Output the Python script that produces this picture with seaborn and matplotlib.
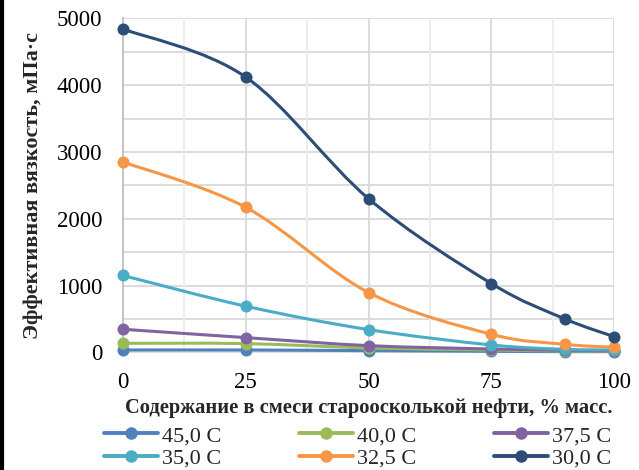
import numpy as np
import pandas as pd
import seaborn as sns
import matplotlib
matplotlib.use("Agg")
import matplotlib.pyplot as plt
from matplotlib.path import Path
from matplotlib.patches import PathPatch
from matplotlib.lines import Line2D

# Share of Stary Oskol crude in the blend, % mass
share = [0, 25, 50, 75, 90, 100]

# Effective viscosity, mPa*s, per temperature
temps = ["45,0 C", "40,0 C", "37,5 C", "35,0 C", "32,5 C", "30,0 C"]
visc_45_0 = [35, 35, 25, 15, 10, 10]
visc_40_0 = [135, 130, 65, 35, 20, 15]
visc_37_5 = [345, 220, 100, 50, 30, 20]
visc_35_0 = [1150, 690, 340, 110, 45, 35]
visc_32_5 = [2850, 2170, 895, 270, 120, 75]
visc_30_0 = [4840, 4120, 2300, 1030, 500, 235]

colors = ["#4F81BD", "#9BBB59", "#8064A2", "#4BACC6", "#F79646", "#2C4D75"]

series = [visc_45_0, visc_40_0, visc_37_5, visc_35_0, visc_32_5, visc_30_0]
df = pd.concat(
    [pd.DataFrame({"share": share, "visc": v, "temp": t}) for t, v in zip(temps, series)],
    ignore_index=True,
)

sns.set_theme(style="white")
plt.rcParams["font.family"] = ["Liberation Serif", "DejaVu Serif"]

fig = plt.figure(figsize=(6.39, 4.70), dpi=100)
ax = fig.add_axes([0.1925, 0.2504, 0.961 - 0.1925, 0.961 - 0.2504])


def smooth_path(xs, ys):
    """Cubic Bezier path through the points (cardinal-spline style)."""
    pts = np.column_stack([xs, ys]).astype(float)
    n = len(pts)
    verts = [pts[0]]
    codes = [Path.MOVETO]
    for i in range(n - 1):
        p_prev = pts[i - 1] if i > 0 else pts[i]
        p0 = pts[i]
        p1 = pts[i + 1]
        p_next = pts[i + 2] if i + 2 < n else pts[i + 1]
        c1 = p0 + (p1 - p_prev) / 6.0
        c2 = p1 - (p_next - p0) / 6.0
        verts += [c1, c2, p1]
        codes += [Path.CURVE4] * 3
    return Path(verts, codes)


for k, (t, c) in enumerate(zip(temps, colors)):
    sub = df[df["temp"] == t]
    patch = PathPatch(smooth_path(sub["share"], sub["visc"]), facecolor="none",
                      edgecolor=c, lw=2.2, zorder=3 + k, clip_on=False,
                      capstyle="round", joinstyle="round")
    ax.add_patch(patch)
    sns.scatterplot(data=sub, x="share", y="visc", color=c, s=75, edgecolor=c,
                    linewidth=0, ax=ax, zorder=3.5 + k, clip_on=False, legend=False)

ax.set_xlim(0, 100)
ax.set_ylim(0, 5000)
ax.set_xticks([0, 25, 50, 75, 100])
ax.set_yticks([0, 1000, 2000, 3000, 4000, 5000])

# grid: horizontal every 500, vertical every 12.5
for yv in np.arange(500, 5001, 500):
    ax.axhline(yv, color="#D9D9D9", lw=1.3, zorder=1)
for xv in np.arange(12.5, 100.1, 12.5):
    col = "#D9D9D9" if xv % 25 == 0 else "#ECECEC"
    ax.axvline(xv, color=col, lw=1.3, zorder=1)

for side in ["top", "right"]:
    ax.spines[side].set_visible(False)
ax.spines["left"].set_color("#BFBFBF")
ax.spines["left"].set_linewidth(1.3)
ax.spines["bottom"].set_color("#D9D9D9")
ax.spines["bottom"].set_linewidth(1.3)

ax.tick_params(axis="both", length=0, labelsize=16.5, colors="#000000")
ax.tick_params(axis="y", pad=15)
ax.tick_params(axis="x", pad=14)

ax.set_xlabel("Содержание в смеси староосколькой нефти, % масс.",
              fontsize=14.8, fontweight="bold", labelpad=4)
ax.set_ylabel("Эффективная вязкость, мПа·с", fontsize=16, fontweight="bold",
              labelpad=10)

# legend filled row by row: three entries per row
order = [0, 3, 1, 4, 2, 5]
handles = [Line2D([0], [0], color=colors[i], lw=2.8, marker="o", markersize=9,
                  markeredgewidth=0) for i in order]
labels = [temps[i] for i in order]
fig.legend(handles, labels, ncol=3, loc="center", bbox_to_anchor=(0.5595, 0.049),
           frameon=False, fontsize=16, handlelength=2.43, handletextpad=0.18,
           columnspacing=3.5, labelspacing=0.08, borderpad=0.0)

# black edge on the left side of the canvas
fig.add_artist(Line2D([0.003, 0.003], [0, 1], transform=fig.transFigure,
                      color="black", lw=3))

fig.savefig("out.png", dpi=100, facecolor="white")
